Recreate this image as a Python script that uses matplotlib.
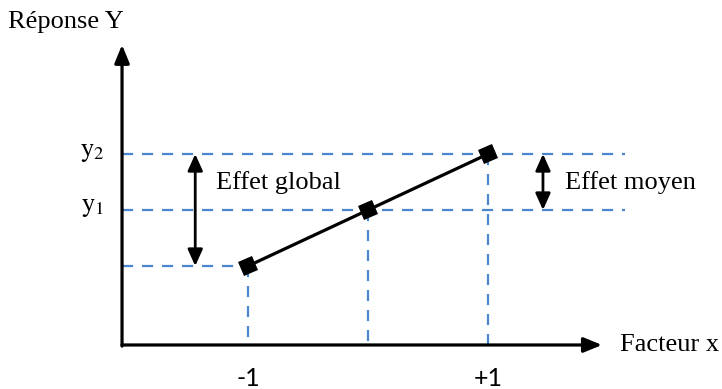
import matplotlib.pyplot as plt
from matplotlib.markers import MarkerStyle
from matplotlib.transforms import Affine2D

# niveaux du facteur et réponses
x_levels = [-1, 0, 1]
y_resp = [1, 2, 3]
x_ticklabels = ["-1", "+1"]
y_ticklabels = [r"$\mathrm{y}_1$", r"$\mathrm{y}_2$"]

blue = "#4a86d0"
serif = "Liberation Serif"
plt.rcParams["mathtext.fontset"] = "stix"

fig = plt.figure(figsize=(7.22, 3.89), dpi=100)
ax = fig.add_axes([0, 0, 1, 1])
ax.set_xlim(-3.067, 2.95)
ax.set_ylim(-1.196, 5.75)
ax.axis("off")

x0, y0 = -2.05, -0.41   # origine des axes
xdash_end = 2.14

# lignes pointillées horizontales
dash = dict(color=blue, lw=1.6, dashes=(5, 4))
ax.plot([x0, xdash_end], [y_resp[2]] * 2, **dash)
ax.plot([x0, xdash_end], [y_resp[1]] * 2, **dash)
ax.plot([x0, x_levels[0]], [y_resp[0]] * 2, **dash)
# lignes pointillées verticales
for xv, yv in zip(x_levels, y_resp):
    ax.plot([xv, xv], [yv, y0], **dash)

# axes avec flèches
ax.annotate("", xy=(1.95, y0), xytext=(x0, y0),
            arrowprops=dict(arrowstyle="-|>,head_length=1.1,head_width=0.45",
                            color="black", lw=2.3, shrinkA=0, shrinkB=0))
ax.annotate("", xy=(x0, 4.95), xytext=(x0, y0 - 0.02),
            arrowprops=dict(arrowstyle="-|>,head_length=1.1,head_width=0.45",
                            color="black", lw=2.3, shrinkA=0, shrinkB=0))

# réponse
ax.plot(x_levels, y_resp, color="black", lw=2.3, zorder=3)
sq = MarkerStyle("s", transform=Affine2D().rotate_deg(25))
ax.plot(x_levels, y_resp, ls="none", marker=sq, ms=11, mew=0,
        color="black", zorder=4)

# flèches d'effet
darr = dict(arrowstyle="<|-|>,head_length=1.0,head_width=0.45",
            color="black", lw=2.0, shrinkA=0, shrinkB=0)
ax.annotate("", xy=(-1.44, y_resp[2]), xytext=(-1.44, y_resp[0]), arrowprops=darr)
ax.annotate("", xy=(1.458, y_resp[2]), xytext=(1.458, y_resp[1]), arrowprops=darr)

# textes
fs = 19
ax.text(-3.0, 5.36, "Réponse Y", fontsize=fs, family=serif, va="center", ha="left")
ax.text(2.1, y0, "Facteur x", fontsize=fs, family=serif, va="center", ha="left")
ax.text(-2.2, y_resp[2] + 0.05, y_ticklabels[1], fontsize=fs, va="center", ha="right")
ax.text(-2.2, y_resp[1] + 0.08, y_ticklabels[0], fontsize=fs, va="center", ha="right")
ax.text(-1.27, 2.5, "Effet global", fontsize=fs, family=serif, va="center", ha="left")
ax.text(1.64, 2.5, "Effet moyen", fontsize=fs, family=serif, va="center", ha="left")
ax.text(x_levels[0], -1.0, x_ticklabels[0], fontsize=18, family="Lato", va="center", ha="center")
ax.text(x_levels[2], -1.0, x_ticklabels[1], fontsize=18, family="Lato", va="center", ha="center")

fig.savefig("out.png", dpi=100)
